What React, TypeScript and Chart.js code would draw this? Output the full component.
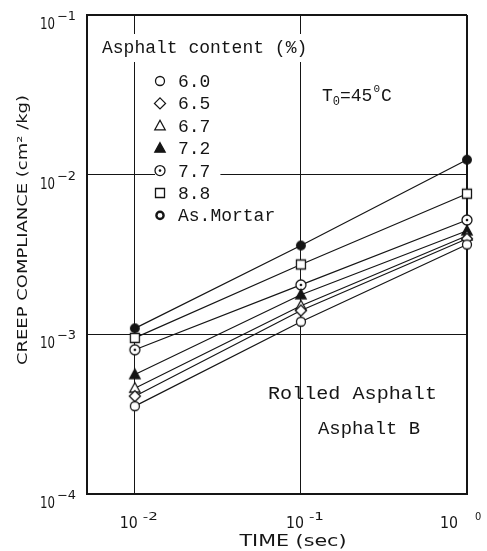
import React, { useEffect, useRef } from 'react';
import { Chart, registerables } from 'chart.js';
Chart.register(...registerables);

// ---- data ----
const times = [0.01, 0.1, 1];
const seriesLabels = ['6.0', '6.5', '6.7', '7.2', '7.7', '8.8', 'As.Mortar'];
const s60 = [3.55e-4, 1.2e-3, 3.65e-3];
const s65 = [4.1e-4, 1.41e-3, 3.97e-3];
const s67 = [4.6e-4, 1.51e-3, 4.14e-3];
const s72 = [5.6e-4, 1.77e-3, 4.45e-3];
const s77 = [8.0e-4, 2.04e-3, 5.2e-3];
const s88 = [9.5e-4, 2.74e-3, 7.6e-3];
const sMortar = [1.09e-3, 3.6e-3, 1.24e-2];
const xTicks = [0.01, 0.1, 1];
const yTicks = [1e-4, 1e-3, 1e-2, 1e-1];
const xTickExp = ['-2', '-1', '0'];
const yTickExp = ['-4', '-3', '-2', '-1'];
const legendTitle = 'Asphalt content (%)';
const xTitle = 'TIME (sec)';
const yTitle = 'CREEP COMPLIANCE (cm\u00B2 /kg)';

const seriesValues = [s60, s65, s67, s72, s77, s88, sMortar];
const markerKinds = ['circle', 'diamond', 'triangle', 'triangleFilled', 'circleDot', 'square', 'mortar'];
const INK = '#151515';

function drawMarker(g: CanvasRenderingContext2D, kind: string, x: number, y: number) {
  g.save();
  g.lineWidth = 1.3;
  g.strokeStyle = INK;
  g.fillStyle = '#fff';
  g.beginPath();
  switch (kind) {
    case 'circle':
      g.arc(x, y, 4.5, 0, Math.PI * 2);
      g.fill(); g.stroke();
      break;
    case 'diamond':
      g.moveTo(x, y - 5.5); g.lineTo(x + 5.5, y); g.lineTo(x, y + 5.5); g.lineTo(x - 5.5, y); g.closePath();
      g.fill(); g.stroke();
      break;
    case 'triangle':
      g.moveTo(x, y - 5.5); g.lineTo(x + 5.2, y + 4); g.lineTo(x - 5.2, y + 4); g.closePath();
      g.fill(); g.stroke();
      break;
    case 'triangleFilled':
      g.fillStyle = INK;
      g.moveTo(x, y - 5.5); g.lineTo(x + 5.2, y + 4); g.lineTo(x - 5.2, y + 4); g.closePath();
      g.fill(); g.stroke();
      break;
    case 'circleDot':
      g.arc(x, y, 5, 0, Math.PI * 2);
      g.fill(); g.stroke();
      g.beginPath(); g.fillStyle = INK; g.arc(x, y, 1.3, 0, Math.PI * 2); g.fill();
      break;
    case 'square':
      g.rect(x - 4.5, y - 4.5, 9, 9);
      g.fill(); g.stroke();
      break;
    case 'mortar':
      g.fillStyle = INK;
      g.arc(x, y, 4.3, 0, Math.PI * 2);
      g.fill(); g.stroke();
      break;
    case 'mortarLegend':
      g.lineWidth = 2.4;
      g.arc(x, y, 3.6, 0, Math.PI * 2);
      g.fill(); g.stroke();
      break;
  }
  g.restore();
}

function makeMarker(kind: string): HTMLCanvasElement {
  const c = document.createElement('canvas');
  c.width = 16; c.height = 16;
  const g = c.getContext('2d')!;
  drawMarker(g, kind, 8, 8);
  return c;
}

function fitText(ctx: CanvasRenderingContext2D, text: string, x: number, y: number, font: string, width: number | null, align: 'left' | 'center' | 'right' = 'left') {
  ctx.save();
  ctx.font = font;
  ctx.textAlign = 'left';
  ctx.textBaseline = 'alphabetic';
  const w = ctx.measureText(text).width;
  const tw = width == null ? w : width;
  const sx = tw / w;
  let ox = 0;
  if (align === 'center') ox = -tw / 2;
  if (align === 'right') ox = -tw;
  ctx.translate(x + ox, y);
  ctx.scale(sx, 1);
  ctx.fillText(text, 0, 0);
  ctx.restore();
  return tw;
}

const MONO = '"Liberation Mono", "DejaVu Sans Mono", monospace';
const SANS = '"DejaVu Sans Condensed", "Liberation Sans Narrow", "DejaVu Sans", sans-serif';

const overlay = {
  id: 'overlay',
  afterDraw(chart: any) {
    const ctx: CanvasRenderingContext2D = chart.ctx;
    const xs = chart.scales.x;
    const ys = chart.scales.y;
    ctx.save();
    ctx.fillStyle = INK;

    // y tick labels
    yTicks.forEach((v, i) => {
      const py = ys.getPixelForValue(v);
      fitText(ctx, '10', 55, py + 14, `16px ${SANS}`, 15, 'right');
      fitText(ctx, '\u2212' + yTickExp[i].slice(1), 57, py + 5, `12px ${SANS}`, 19, 'left');
    });

    // x tick labels
    xTicks.forEach((v, i) => {
      const px = xs.getPixelForValue(v);
      const last = i === xTicks.length - 1;
      const exp = xTickExp[i];
      if (!last) {
        fitText(ctx, '10', px - 15, 528, `15px ${SANS}`, 18, 'left');
        fitText(ctx, exp, px + 8, 520, `11px ${SANS}`, 15, 'left');
      } else {
        fitText(ctx, '10', px - 9, 528, `15px ${SANS}`, 18, 'right');
        fitText(ctx, exp, px + 8, 520, `11px ${SANS}`, null, 'left');
      }
    });

    // axis titles
    fitText(ctx, xTitle, 293, 546, `16px ${SANS}`, 107, 'center');
    ctx.save();
    ctx.translate(27, 230);
    ctx.rotate(-Math.PI / 2);
    fitText(ctx, yTitle, 0, 0, `14px ${SANS}`, 270, 'center');
    ctx.restore();

    // legend
    ctx.fillStyle = '#fff';
    ctx.font = `18px ${MONO}`;
    const tw = ctx.measureText(legendTitle).width;
    ctx.fillRect(96, 34, tw + 10, 28);
    const rowY0 = 81, rowDy = 22.4;
    seriesLabels.forEach((lab, i) => {
      const cy = rowY0 + i * rowDy;
      ctx.font = `18px ${MONO}`;
      const w = ctx.measureText(lab).width;
      ctx.fillStyle = '#fff';
      ctx.fillRect(155, cy - 11, 178 + w + 10 - 155, 22);
    });
    ctx.fillStyle = INK;
    fitText(ctx, legendTitle, 102, 53, `18px ${MONO}`, null, 'left');
    seriesLabels.forEach((lab, i) => {
      const cy = rowY0 + i * rowDy;
      const kind = markerKinds[i] === 'mortar' ? 'mortarLegend' : markerKinds[i];
      drawMarker(ctx, kind, 160, cy);
      ctx.fillStyle = INK;
      fitText(ctx, lab, 178, cy + 6, `18px ${MONO}`, null, 'left');
    });

    // annotations
    let x = 322;
    x += fitText(ctx, 'T', x, 101, `18px ${MONO}`, null);
    x += fitText(ctx, '0', x, 105, `12px ${MONO}`, null);
    x += fitText(ctx, '=45', x, 101, `18px ${MONO}`, null);
    x += fitText(ctx, '0', x + 1, 92, `11px ${MONO}`, null) + 2;
    fitText(ctx, 'C', x, 101, `18px ${MONO}`, null);

    fitText(ctx, 'Rolled Asphalt', 268, 399, `18px ${MONO}`, 169, 'left');
    fitText(ctx, 'Asphalt B', 318, 434, `18px ${MONO}`, 102, 'left');

    ctx.restore();
  },
};

export default function App() {
  const ref = useRef<HTMLCanvasElement>(null);
  useEffect(() => {
    const canvas = ref.current!;
    const imgs = markerKinds.map((k) => makeMarker(k));
    const chart = new Chart(canvas, {
      type: 'scatter',
      data: {
        datasets: seriesValues.map((vals, i) => ({
          label: seriesLabels[i],
          data: times.map((t, j) => ({ x: t, y: vals[j] })),
          showLine: true,
          borderColor: INK,
          borderWidth: 1.2,
          backgroundColor: '#fff',
          pointStyle: imgs[i] as any,
          pointRadius: 5,
          pointHoverRadius: 5,
          tension: 0,
          clip: false,
        })),
      },
      options: {
        responsive: false,
        animation: false,
        events: [],
        layout: { padding: { top: 15, right: 20, left: 0, bottom: 0 } },
        plugins: { legend: { display: false }, tooltip: { enabled: false } },
        scales: {
          x: {
            type: 'logarithmic',
            min: 0.00515,
            max: 1,
            afterBuildTicks: (s: any) => { s.ticks = xTicks.map((v) => ({ value: v })); },
            afterFit: (s: any) => { s.height = 57; },
            ticks: { display: false },
            grid: {
              color: INK,
              lineWidth: (c: any) => (c.tick && c.tick.value === 1 ? 2 : 1),
              drawTicks: false,
            },
            border: { color: INK, width: 2 },
          },
          y: {
            type: 'logarithmic',
            min: 1e-4,
            max: 1e-1,
            afterBuildTicks: (s: any) => { s.ticks = yTicks.map((v) => ({ value: v })); },
            afterFit: (s: any) => { s.width = 87; },
            ticks: { display: false },
            grid: {
              color: INK,
              lineWidth: (c: any) => (c.tick && c.tick.value === 1e-1 ? 2 : 1),
              drawTicks: false,
            },
            border: { color: INK, width: 2 },
          },
        },
      } as any,
      plugins: [overlay],
    });
    return () => chart.destroy();
  }, []);
  return (
    <div style={{ position: 'fixed', left: 0, top: 0, width: 487, height: 551, background: '#fff' }}>
      <canvas ref={ref} width={487} height={551} style={{ display: 'block', width: 487, height: 551 }} />
    </div>
  );
}
